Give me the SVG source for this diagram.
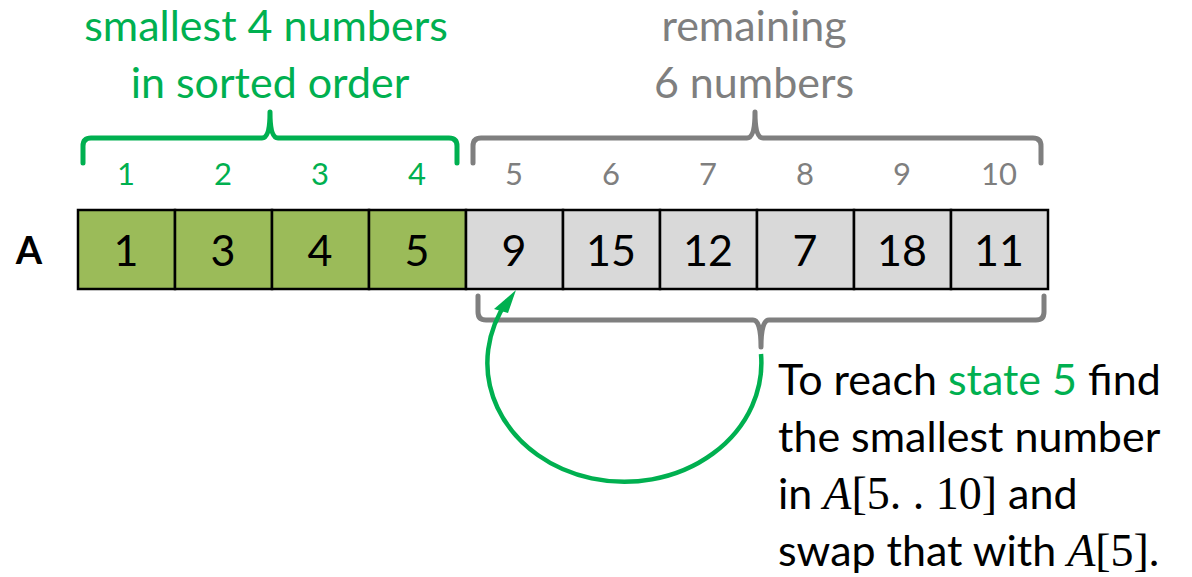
<svg xmlns="http://www.w3.org/2000/svg" width="1192" height="577" viewBox="0 0 1192 577">
<style>
.t{font-family:Lato,"Open Sans",sans-serif}
.g{fill:#00B050}
.gy{fill:#7F7F7F}
.cell{stroke:#000;stroke-width:2.5}
.sorted{fill:#9BBB59}
.rest{fill:#D9D9D9}
.val{font-family:Lato,"Open Sans",sans-serif;font-size:43px;fill:#000;text-anchor:middle}
.idx{font-family:Lato,"Open Sans",sans-serif;font-size:31px;text-anchor:middle}
.brace{fill:none;stroke-width:5;stroke-linejoin:round;stroke-linecap:round}
.m{font-family:"Liberation Serif",serif}
</style>
<rect width="1192" height="577" fill="#fff"/>
<g id="labels-top">
<text class="t g" font-size="43" x="266" y="41" text-anchor="middle">smallest 4 numbers</text>
<text class="t g" font-size="43" x="270" y="98" text-anchor="middle">in sorted order</text>
<text class="t gy" font-size="43" x="754" y="41" text-anchor="middle">remaining</text>
<text class="t gy" font-size="43" x="754" y="98" text-anchor="middle">6 numbers</text>
</g>
<g id="braces">
<path class="brace" stroke="#00B050" d="M83,163 V146 Q83,138 91,138 H262 Q270,138 270,112 Q270,138 278,138 H449 Q457,138 457,146 V163"/>
<path class="brace" stroke="#7F7F7F" d="M473,163 V146 Q473,138 481,138 H747 Q755,138 755,112 Q755,138 763,138 H1033 Q1041,138 1041,146 V163"/>
<path class="brace" stroke="#7F7F7F" d="M478,296 V312 Q478,320 486,320 H753 Q761,320 761,347 Q761,320 769,320 H1036 Q1044,320 1044,312 V296"/>
</g>
<g id="indices">
<text class="idx g" x="126" y="185">1</text>
<text class="idx g" x="223" y="185">2</text>
<text class="idx g" x="320" y="185">3</text>
<text class="idx g" x="417" y="185">4</text>
<text class="idx gy" x="514" y="185">5</text>
<text class="idx gy" x="611" y="185">6</text>
<text class="idx gy" x="708" y="185">7</text>
<text class="idx gy" x="805" y="185">8</text>
<text class="idx gy" x="902" y="185">9</text>
<text class="idx gy" x="999" y="185">10</text>
</g>
<g id="array-label">
<text class="t" font-size="38" font-weight="bold" x="29" y="264" text-anchor="middle">A</text>
</g>
<g id="array">
<rect class="cell sorted" x="78" y="210" width="97" height="79"/>
<rect class="cell sorted" x="175" y="210" width="97" height="79"/>
<rect class="cell sorted" x="272" y="210" width="97" height="79"/>
<rect class="cell sorted" x="369" y="210" width="97" height="79"/>
<rect class="cell rest" x="466" y="210" width="97" height="79"/>
<rect class="cell rest" x="563" y="210" width="97" height="79"/>
<rect class="cell rest" x="660" y="210" width="97" height="79"/>
<rect class="cell rest" x="757" y="210" width="97" height="79"/>
<rect class="cell rest" x="854" y="210" width="97" height="79"/>
<rect class="cell rest" x="951" y="210" width="97" height="79"/>
<text class="val" x="126" y="266">1</text>
<text class="val" x="223" y="266">3</text>
<text class="val" x="320" y="266">4</text>
<text class="val" x="417" y="266">5</text>
<text class="val" x="514" y="266">9</text>
<text class="val" x="611" y="266">15</text>
<text class="val" x="708" y="266">12</text>
<text class="val" x="805" y="266">7</text>
<text class="val" x="902" y="266">18</text>
<text class="val" x="999" y="266">11</text>
</g>
<g id="connectors">
<path d="M761,354 A137,119 0 1 1 508,300" fill="none" stroke="#00B050" stroke-width="4.5"/>
<path d="M516,290 L494,309 L508,313 Z" fill="#00B050"/>
</g>
<g id="note">
<text class="t" font-size="43" x="778" y="395">To reach <tspan class="g">state 5</tspan> find</text>
<text class="t" font-size="43" x="778" y="452">the smallest number</text>
<text class="t" font-size="43" x="778" y="509">in <tspan class="m" font-style="italic" font-size="46">A</tspan><tspan class="m" font-size="46">[5. . 10]</tspan> and</text>
<text class="t" font-size="43" x="778" y="566">swap that with <tspan class="m" font-style="italic" font-size="46">A</tspan><tspan class="m" font-size="46">[5]</tspan>.</text>
</g>
</svg>
